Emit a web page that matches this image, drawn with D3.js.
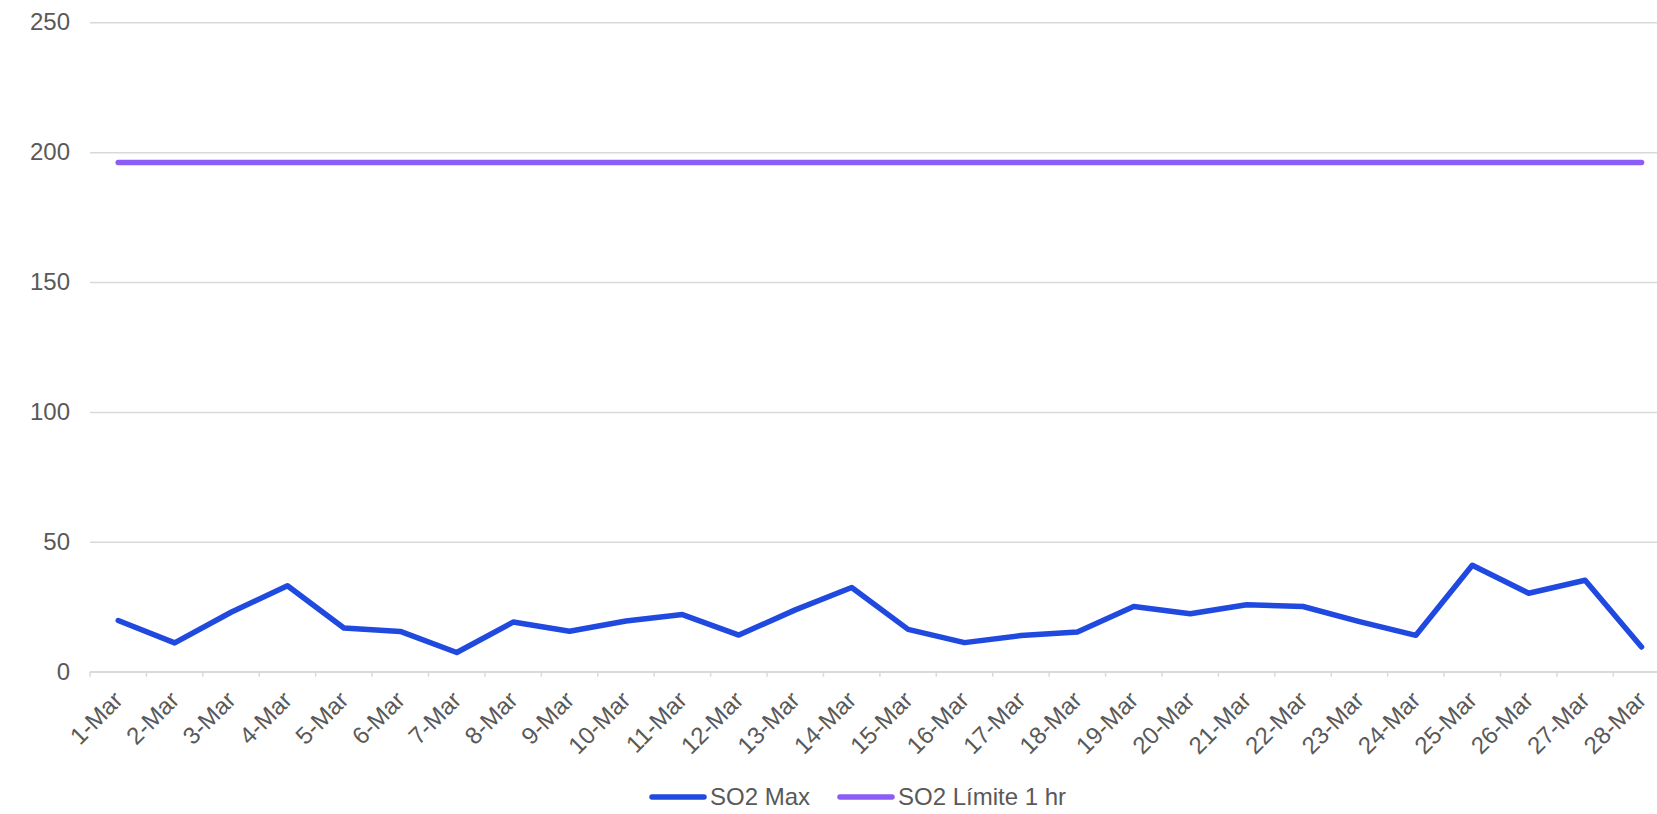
<html>
<script src='https://d3js.org/d3.v7.min.js'></script>
<style>
    body {
        margin: 0;
        overflow: hidden;
        background: #fff;
        font-family: 'Liberation Sans', Arial, sans-serif;
    }

    .grid line {
        stroke: #d9d9d9;
        stroke-width: 1.5;
    }

    .tick text {
        fill: #595959;
    }
</style>

<body>
    <svg id='chart' width=1657 height=814></svg>
</body>

<script>
    // days of March shown on the x axis
    const days = ['1-Mar', '2-Mar', '3-Mar', '4-Mar', '5-Mar', '6-Mar', '7-Mar', '8-Mar', '9-Mar', '10-Mar',
        '11-Mar', '12-Mar', '13-Mar', '14-Mar', '15-Mar', '16-Mar', '17-Mar', '18-Mar', '19-Mar', '20-Mar',
        '21-Mar', '22-Mar', '23-Mar', '24-Mar', '25-Mar', '26-Mar', '27-Mar', '28-Mar'];

    // SO2 daily max
    const so2Max = [19.7, 11.1, 22.9, 33.1, 16.8, 15.5, 7.4, 19.1, 15.6, 19.5,
        22.0, 14.1, 23.8, 32.4, 16.3, 11.2, 13.9, 15.3, 25.1, 22.3,
        25.8, 25.1, 19.3, 14.0, 41.0, 30.2, 35.2, 9.5];

    // 1 hr limit
    const so2Limit = [196, 196, 196, 196, 196, 196, 196, 196, 196, 196,
        196, 196, 196, 196, 196, 196, 196, 196, 196, 196,
        196, 196, 196, 196, 196, 196, 196, 196];

    const yTicks = [0, 50, 100, 150, 200, 250];

    const seriesNames = ['SO2 Max', 'SO2 Límite 1 hr'];
    const seriesColors = ['#2049e0', '#8b5cf6'];

    const plotLeft = 90;
    const bandW = 56.42;
    const plotTop = 22.3;
    const plotBottom = 671.7;

    var svg = d3.select('#chart');

    var x = d3.scaleBand()
        .domain(days)
        .range([plotLeft, plotLeft + bandW * days.length]);

    var y = d3.scaleLinear()
        .domain([0, 250])
        .range([plotBottom, plotTop]);

    // gridlines + y labels
    var yaxis = svg.append('g')
        .attr('class', 'grid')
        .attr('transform', 'translate(' + plotLeft + ',0)')
        .call(d3.axisLeft(y)
            .tickValues(yTicks)
            .tickSize(-(bandW * days.length))
            .tickPadding(20));
    yaxis.select('.domain').remove();
    yaxis.selectAll('text')
        .style('font-size', '24px')
        .style('font-family', "'Liberation Sans', Arial, sans-serif");

    // x axis with ticks at band boundaries
    var xaxis = svg.append('g')
        .attr('transform', 'translate(0,' + plotBottom + ')');

    xaxis.append('line')
        .attr('x1', plotLeft)
        .attr('x2', plotLeft + bandW * days.length)
        .attr('stroke', '#d9d9d9')
        .attr('stroke-width', 1.5);

    xaxis.selectAll('.xt')
        .data(days)
        .enter()
        .append('line')
        .attr('class', 'xt')
        .attr('x1', function(d) { return x(d); })
        .attr('x2', function(d) { return x(d); })
        .attr('y1', 0)
        .attr('y2', 5)
        .attr('stroke', '#d9d9d9')
        .attr('stroke-width', 1.5);

    xaxis.selectAll('.xl')
        .data(days)
        .enter()
        .append('text')
        .attr('class', 'xl')
        .attr('transform', function(d) {
            return 'translate(' + (x(d) + x.bandwidth() / 2 + 6) + ',' + 30 + ')rotate(-45)';
        })
        .style('text-anchor', 'end')
        .style('font-size', '24px')
        .style('fill', '#595959')
        .text(function(d) { return d; });

    var line = d3.line()
        .x(function(d, i) { return x(days[i]) + x.bandwidth() / 2; })
        .y(function(d) { return y(d); });

    [so2Max, so2Limit].forEach(function(s, i) {
        svg.append('path')
            .datum(s)
            .attr('fill', 'none')
            .attr('stroke', seriesColors[i])
            .attr('stroke-width', 5.5)
            .attr('stroke-linecap', 'round')
            .attr('stroke-linejoin', 'round')
            .attr('d', line);
    });

    // legend
    const legendX = [652, 840];
    var legend = svg.append('g')
        .attr('transform', 'translate(0,797)');

    seriesNames.forEach(function(name, i) {
        legend.append('line')
            .attr('x1', legendX[i])
            .attr('x2', legendX[i] + 52)
            .attr('stroke', seriesColors[i])
            .attr('stroke-width', 5.5)
            .attr('stroke-linecap', 'round');
        legend.append('text')
            .attr('x', legendX[i] + 58)
            .attr('dy', '0.35em')
            .style('font-size', '24px')
            .style('fill', '#595959')
            .text(name);
    });
</script>

</html>
